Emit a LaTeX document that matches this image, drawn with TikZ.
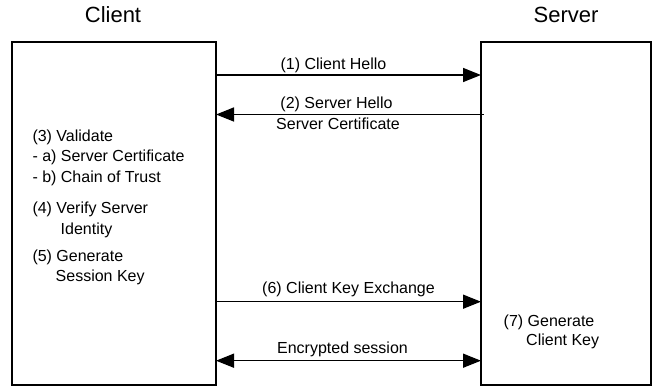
\documentclass[tikz,border=0pt]{standalone}
\usepackage{fontspec}
\setmainfont{Liberation Sans}
\usetikzlibrary{arrows.meta,calc}

\tikzset{
  party/.style={draw, line width=1.8pt, rectangle, anchor=north west, inner sep=0pt, outer sep=0pt},
  title/.style={font=\fontsize{22}{26}\selectfont, anchor=base, inner sep=0pt},
  txt/.style={font=\fontsize{16}{19}\selectfont, anchor=base west, inner sep=0pt},
  lbl/.style={font=\fontsize{16}{19}\selectfont, anchor=base, inner sep=0pt},
  msg/.style={line width=1.5pt, -{Triangle[length=18pt,width=14pt]}},
  both/.style={line width=1.5pt, {Triangle[length=18pt,width=14pt]}-{Triangle[length=18pt,width=14pt]}}
}

\begin{document}
\begin{tikzpicture}[x=1pt, y=-1pt]
  \useasboundingbox (0,0) rectangle (657,390);

  % the two parties
  \node[party, minimum width=204pt, minimum height=343pt] (cli) at (12,42) {};
  \node[party, minimum width=170pt, minimum height=343pt] (srv) at (481,42) {};
  \node[title] (clit) at (113,22.7) {Client};
  \node[title] (srvt) at (566,23) {Server};

  % handshake messages
  \draw[msg] (cli.east |- 0,75) -- (srv.west |- 0,75);
  \node[lbl] (m1) at (333.5,69.3) {(1) Client Hello};

  \draw[msg] ($(srv.west |- 0,114.5)+(2.5,0)$) -- (cli.east |- 0,114.5);
  \node[lbl] (m2a) at (336.5,108.3) {(2) Server Hello};
  \node[lbl] (m2b) at (338,130) {Server Certificate};

  \draw[msg] (cli.east |- 0,301.7) -- (srv.west |- 0,301.7);
  \node[lbl] (m6) at (348.5,294) {(6) Client Key Exchange};

  \draw[both] (cli.east |- 0,360.7) -- (srv.west |- 0,360.7);
  \node[lbl] (m8) at (342.5,354) {Encrypted session};

  % client side steps
  \node[txt] (c3) at (32.3,141.7) {(3) Validate};
  \node[txt] (c3a) at (32.3,162) {- a) Server Certificate};
  \node[txt] (c3b) at (32.3,183) {- b) Chain of Trust};
  \node[txt] (c4) at (32.3,214) {(4) Verify Server};
  \node[txt] (c4b) at (60.5,235) {Identity};
  \node[txt] (c5) at (32.3,262) {(5) Generate};
  \node[txt] (c5b) at (55.5,282) {Session Key};

  % server side step
  \node[txt] (s7) at (503.5,326.7) {(7) Generate};
  \node[txt] (s7b) at (526,345.7) {Client Key};
\end{tikzpicture}
\end{document}
